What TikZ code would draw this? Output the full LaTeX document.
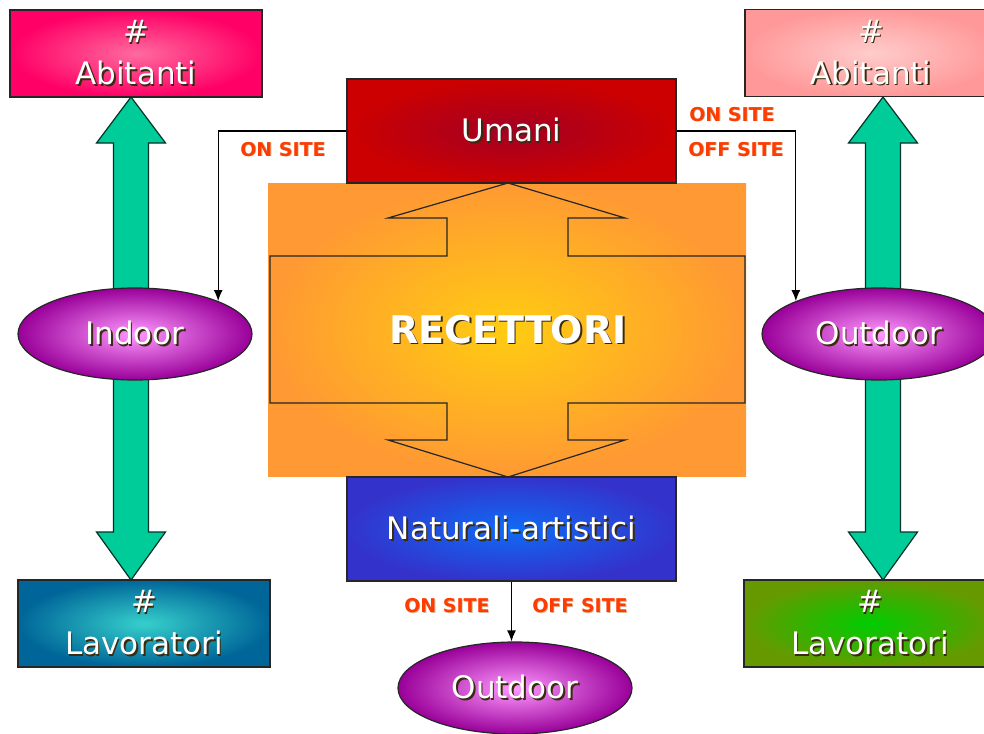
\documentclass[tikz,border=0pt]{standalone}
\usepackage{fontspec}
\setmainfont{DejaVu Sans}
\usetikzlibrary{shapes.geometric,arrows.meta,calc}

% fills
\definecolor{abLout}{HTML}{FF0066}
\definecolor{abLin}{HTML}{FF6A9E}
\definecolor{abRout}{HTML}{FF9999}
\definecolor{abRin}{HTML}{FFCCCC}
\definecolor{umOut}{HTML}{CC0000}
\definecolor{umIn}{HTML}{A30024}
\definecolor{naOut}{HTML}{3333CC}
\definecolor{naIn}{HTML}{0F6BF5}
\definecolor{lvLout}{HTML}{006699}
\definecolor{lvLin}{HTML}{36D0CC}
\definecolor{lvRout}{HTML}{669900}
\definecolor{lvRin}{HTML}{00CC00}
\definecolor{elOut}{HTML}{990099}
\definecolor{elIn}{HTML}{FF99FF}
\definecolor{orOut}{HTML}{FF9933}
\definecolor{orIn}{HTML}{FFCC11}
\definecolor{blockgreen}{HTML}{00CC99}
\definecolor{sitecol}{HTML}{FF3C00}
\definecolor{shadowc}{HTML}{3A2A10}

% white lettering with a dark drop shadow
\newcommand\shadowed[1]{\leavevmode\rlap{\kern1.6pt\raisebox{-1.6pt}{\textcolor{shadowc}{#1}}}\textcolor{white}{#1}}
\newcommand\sitelabel[1]{\leavevmode\rlap{\kern0.8pt\raisebox{-0.8pt}{\textcolor{orange!60!black!40}{#1}}}\textcolor{sitecol}{#1}}

\tikzset{
  countbox/.style={draw=black!85, line width=1.2pt, minimum width=252pt,
    minimum height=87pt, inner sep=0pt, align=center,
    font=\fontsize{31}{42}\selectfont},
  catbox/.style={draw=black!85, line width=1.2pt, minimum width=329pt,
    minimum height=104pt, inner sep=0pt, font=\fontsize{31}{36}\selectfont},
  place/.style={ellipse, draw=black!85, line width=1.2pt, minimum width=234pt,
    minimum height=92pt, inner sep=0pt, inner color=elIn, outer color=elOut,
    font=\fontsize{31}{36}\selectfont},
  sitetag/.style={font=\bfseries\fontsize{19}{22}\selectfont, inner sep=0pt},
  conn/.style={draw=black, line width=1.2pt, -{Latex[length=11pt,width=9pt]}},
  dblarrow/.pic={
    \filldraw[fill=blockgreen, draw=black!75!blockgreen, line width=1.2pt]
      (0,97) -- (34.5,143) -- (17.5,143) -- (17.5,532) -- (34.5,532)
      -- (0,580) -- (-34.5,532) -- (-17.5,532) -- (-17.5,143)
      -- (-34.5,143) -- cycle;
  },
}

\begin{document}
\begin{tikzpicture}[x=1pt,y=-1pt]
\useasboundingbox (0,0) rectangle (984,733);

% vertical double block arrows behind the ellipses
\pic at (131,0) {dblarrow};
\pic at (883,0) {dblarrow};

% receptor panel with its double block arrow outline
\shade[inner color=orIn, outer color=orOut] (268,183) rectangle (746,476);
\draw[black!85, line width=1.2pt]
  (508,183) -- (625,218) -- (568,218) -- (568,256) -- (745,256)
  -- (745,403) -- (568,403) -- (568,440) -- (625,440) -- (508,477)
  -- (388,440) -- (447,440) -- (447,403) -- (270,403) -- (270,256)
  -- (447,256) -- (447,218) -- (388,218) -- cycle;
\node (rec) at (508,330) {\bfseries\fontsize{38}{42}\selectfont\shadowed{RECETTORI}};

% count boxes
\node[countbox, inner color=abLin, outer color=abLout] (abL) at (136,53.5)
  {\shadowed{\#}\\\shadowed{Abitanti}};
\node[countbox, inner color=abRin, outer color=abRout] (abR) at (871,53)
  {\shadowed{\#}\\\shadowed{Abitanti}};
\node[countbox, inner color=lvLin, outer color=lvLout] (lvL) at (144,623.5)
  {\shadowed{\#}\\\shadowed{Lavoratori}};
\node[countbox, inner color=lvRin, outer color=lvRout] (lvR) at (870,623.5)
  {\shadowed{\#}\\\shadowed{Lavoratori}};

% receptor categories
\node[catbox, inner color=umIn, outer color=umOut] (um) at (511.5,131)
  {\shadowed{Umani}};
\node[catbox, inner color=naIn, outer color=naOut] (na) at (511.5,529)
  {\shadowed{Naturali-artistici}};

% places
\node[place] (ind) at (135,334) {\shadowed{Indoor}};
\node[place] (outR) at (879,334) {\shadowed{Outdoor}};
\node[place] (outB) at (515,688) {\shadowed{Outdoor}};

% connectors
\draw[conn] (um.west) -| (ind.north east);
\draw[conn] (um.east) -| (outR.north west);
\draw[conn] (na.south) -- (na.south |- outB.north);

% site tags
\node[sitetag] (tL) at (283,149.5) {\sitelabel{ON SITE}};
\node[sitetag] (tR1) at (732,114.5) {\sitelabel{ON SITE}};
\node[sitetag] (tR2) at (736,149.5) {\sitelabel{OFF SITE}};
\node[sitetag] (tB1) at (447,606) {\sitelabel{ON SITE}};
\node[sitetag] (tB2) at (580,606) {\sitelabel{OFF SITE}};
\end{tikzpicture}
\end{document}
